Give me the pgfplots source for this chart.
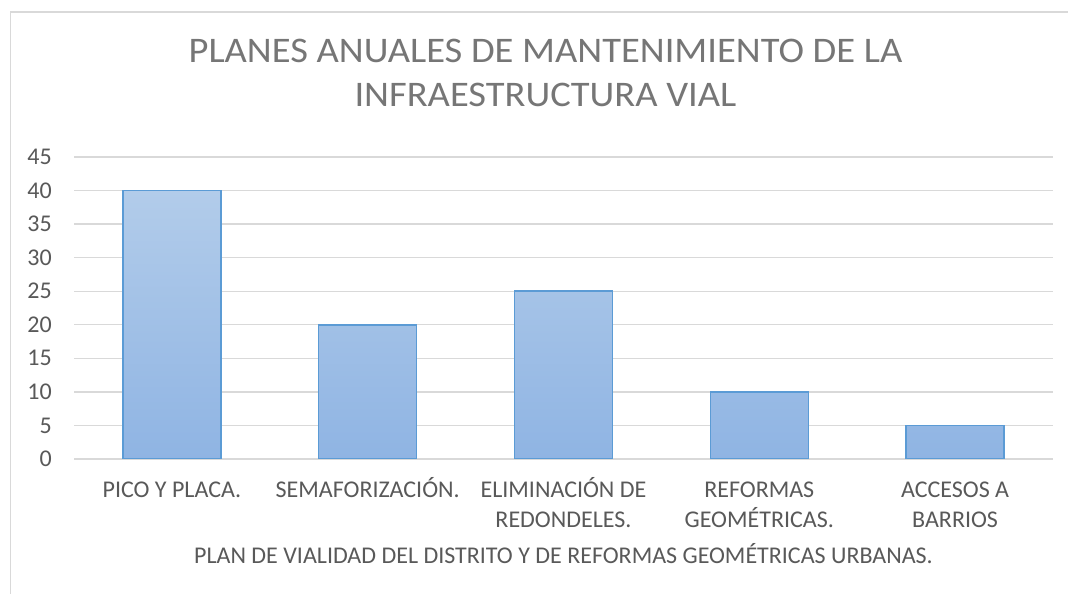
\documentclass[border=0pt]{standalone}
\usepackage{fontspec}
\setmainfont{Carlito}
\newfontfamily\titlefont[FakeStretch=1.07]{Carlito}
\usepackage{pgfplots}
\pgfplotsset{compat=1.18}

\definecolor{txt}{HTML}{595959}
\definecolor{titlecol}{HTML}{767676}
\definecolor{gridcol}{HTML}{D9D9D9}
\definecolor{bartop}{HTML}{B2CCEA}
\definecolor{barbot}{HTML}{8FB4E3}
\definecolor{barline}{HTML}{5B9BD5}

\newcommand{\lblfont}{\fontsize{24bp}{30bp}\selectfont}
\newcommand{\ttlfont}{\titlefont\fontsize{36bp}{44.5bp}\selectfont}

\begin{document}
\begin{tikzpicture}
\useasboundingbox (0,0) rectangle (1068bp,594bp);
\fill[white] (0,0) rectangle (1068bp,594bp);
% chart area frame
\draw[gridcol, line width=1.5bp] (10.5bp,-2bp) -- (10.5bp,582bp) -- (1070bp,582bp);
\begin{axis}[
  at={(74bp,135bp)}, anchor=south west,
  scale only axis, width=979bp, height=302bp,
  xmin=-0.5, xmax=4.5, ymin=0, ymax=45,
  ytick={0,5,...,45},
  xtick={0,1,2,3,4},
  xticklabels={{\strut PICO Y PLACA.},{\strut SEMAFORIZACIÓN.},{\strut ELIMINACIÓN DE\\REDONDELES.},{\strut REFORMAS\\GEOMÉTRICAS.},{\strut ACCESOS A\\BARRIOS}},
  ymajorgrids,
  major grid style={draw=gridcol, line width=1.3bp},
  axis line style={draw=none},
  tick style={draw=none},
  /pgf/number format/assume math mode=true,
  xticklabel style={font=\lblfont, text=txt, align=center, anchor=north, inner sep=0pt, yshift=-17bp},
  yticklabel style={font=\lblfont, text=txt, anchor=east, inner sep=0pt, xshift=-22bp},
  title={\strut PLANES ANUALES DE MANTENIMIENTO DE LA\\INFRAESTRUCTURA VIAL},
  title style={at={(axis description cs:0.4816,1.398)}, anchor=north, inner sep=0pt, align=center, font=\ttlfont, text=titlecol},
  xlabel={\strut PLAN DE VIALIDAD DEL DISTRITO Y DE REFORMAS GEOMÉTRICAS URBANAS.},
  xlabel style={at={(axis description cs:0.5,-0.2748)}, anchor=north, inner sep=0pt, font=\lblfont, text=txt},
]
\addplot[ybar, bar width=98bp, draw=barline, line width=1.5bp, top color=bartop, bottom color=barbot]
  coordinates {(0,40) (1,20) (2,25) (3,10) (4,5)};
\end{axis}
\end{tikzpicture}
\end{document}
